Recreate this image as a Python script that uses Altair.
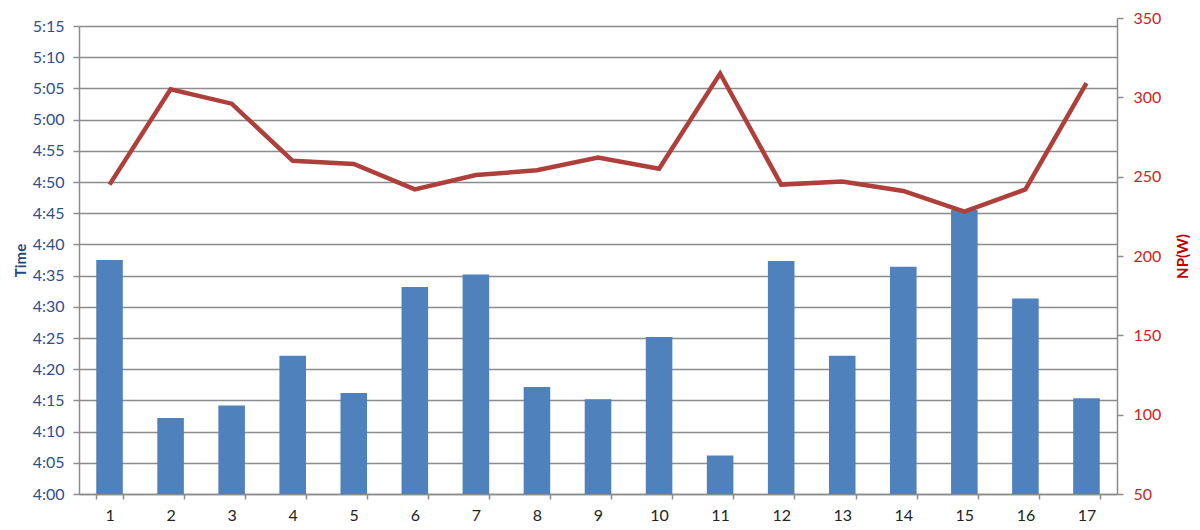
import altair as alt
import pandas as pd

laps = [str(i) for i in range(1, 18)]
times = ["4:37:30", "4:12:10", "4:14:10", "4:22:10", "4:16:10", "4:33:10", "4:35:10",
         "4:17:10", "4:15:10", "4:25:10", "4:06:10", "4:37:20", "4:22:10", "4:36:25",
         "4:45:30", "4:31:20", "4:15:20"]
np_w = [245, 305, 296, 260, 258, 242, 251, 254, 262, 255, 315, 245, 247, 241, 228, 242, 309]
time_ticks = ["4:00", "4:05", "4:10", "4:15", "4:20", "4:25", "4:30", "4:35",
              "4:40", "4:45", "4:50", "4:55", "5:00", "5:05", "5:10", "5:15"]
np_ticks = [50, 100, 150, 200, 250, 300, 350]


def to_min(s):
    parts = [int(p) for p in s.split(":")]
    h, m = parts[0], parts[1]
    sec = parts[2] if len(parts) > 2 else 0
    return h * 60 + m + sec / 60.0


tick_mins = [to_min(t) for t in time_ticks]
df = pd.DataFrame({
    "Ride": laps,
    "Minutes": [to_min(t) for t in times],
    "NP": np_w,
    "Base": tick_mins[0],
})

FONT = "Lato"
GRID = "#8c8c8c"
order = laps
W, H = 1038, 468

x_enc = alt.X(
    "Ride:N", sort=order, title=None,
    scale=alt.Scale(paddingInner=0.565, paddingOuter=0.2825),
    axis=alt.Axis(labelAngle=0, tickBand="extent", domainColor=GRID, tickColor=GRID,
                  tickSize=5, domainWidth=1.5, tickWidth=1.5, labelFont=FONT,
                  labelFontSize=16, labelColor="#222222", labelPadding=8, grid=False),
)

bars = alt.Chart(df).mark_bar(color="#4F81BD").encode(
    x=x_enc,
    y=alt.Y(
        "Minutes:Q", title="Time",
        scale=alt.Scale(domain=[tick_mins[0], tick_mins[-1]], zero=False, nice=False),
        axis=alt.Axis(
            values=tick_mins, grid=True, gridColor=GRID, gridWidth=1.5,
            labelExpr="floor(datum.value/60) + ':' + (round(datum.value % 60) < 10 ? '0' : '') + round(datum.value % 60)",
            labelFont=FONT, labelFontSize=16, labelColor="#2F4F8A", labelPadding=9,
            tickSize=6, tickColor=GRID, tickWidth=1.5, domainColor=GRID, domainWidth=1.5,
            titleFont=FONT, titleFontSize=15, titleFontWeight="bold", titleColor="#1F497D",
            titlePadding=4,
        ),
    ),
    y2="Base:Q",
)

line = alt.Chart(df).mark_line(color="#AE3F3B", strokeWidth=4.5, strokeJoin="miter").encode(
    x=alt.X("Ride:N", sort=order),
    y=alt.Y(
        "NP:Q", title="NP(W)",
        scale=alt.Scale(domain=[np_ticks[0], np_ticks[-1]], zero=False, nice=False,
                        range=[H, -8]),
        axis=alt.Axis(
            orient="right", values=np_ticks, grid=False,
            labelFont=FONT, labelFontSize=16, labelColor="#D41C1C", labelPadding=10,
            tickSize=6, tickColor=GRID, tickWidth=1.5, domainColor=GRID, domainWidth=1.5,
            titleFont=FONT, titleFontSize=15, titleFontWeight="bold", titleColor="#C00000",
            titleAngle=270, titlePadding=30,
        ),
    ),
)

chart = alt.layer(bars, line).resolve_scale(y="independent").properties(
    width=W, height=H,
    autosize=alt.AutoSizeParams(type="none"),
    padding={"left": 71, "top": 18, "right": 75, "bottom": 28},
).configure_view(stroke=None)

chart.save("out.html", embed_options={"renderer": "svg", "actions": False})
